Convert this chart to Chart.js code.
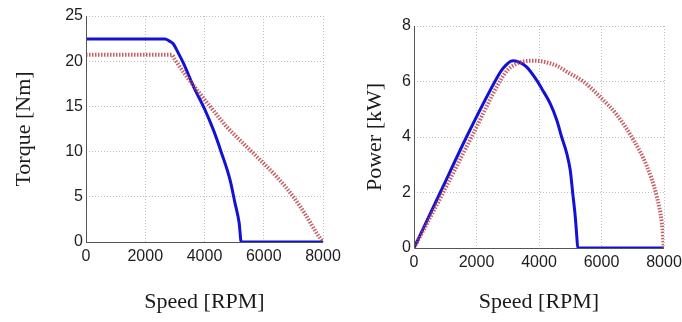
<!DOCTYPE html>
<html>
<head>
<meta charset="utf-8">
<script src="https://cdn.jsdelivr.net/npm/chart.js@4.4.1/dist/chart.umd.min.js"></script>
<style>
  html, body { margin: 0; padding: 0; background: #fff; }
  #wrap { position: relative; width: 682px; height: 322px; overflow: hidden; }
  canvas { position: absolute; top: 0; }
  #c1 { left: 0; }
  #c2 { left: 341px; }
</style>
</head>
<body>
<div id="wrap">
  <canvas id="c1" width="341" height="322"></canvas>
  <canvas id="c2" width="341" height="322"></canvas>
</div>
<script>
// ---- Data ----
const speedTicks = [0, 2000, 4000, 6000, 8000];
const torqueTicks = [0, 5, 10, 15, 20, 25];
const powerTicks = [0, 2, 4, 6, 8];

const torqueBlueSpeed = [0, 2670, 2800, 2950, 3100, 3300, 3630, 4020, 4300, 4580, 4860, 5030, 5170, 5240, 8000];
const torqueBlue      = [22.45, 22.45, 22.25, 21.9, 21.0, 19.7, 17.2, 14.6, 12.4, 9.8, 6.9, 4.3, 2.1, 0, 0];

const torqueRedSpeed = [0, 2900, 3000, 3400, 4190, 4750, 5310, 5880, 6440, 7000, 7450, 7790, 8000];
const torqueRed      = [20.7, 20.7, 20.2, 18.3, 15.0, 12.75, 10.9, 9.07, 7.2, 5.0, 2.8, 0.96, 0];

const powerBlueSpeed = [0, 840, 1680, 2590, 2800, 2950, 3080, 3180, 3400, 3610, 3930, 4090, 4360, 4570, 4730, 4890, 5000, 5080, 5160, 5210, 5240, 8000];
const powerBlue      = [0, 2, 4, 6, 6.4, 6.6, 6.72, 6.75, 6.68, 6.52, 6.04, 5.74, 5.2, 4.6, 3.98, 3.4, 2.8, 1.97, 1.13, 0.41, 0, 0];

const powerRedSpeed = [0, 935, 1840, 2745, 3000, 3250, 3500, 3800, 4200, 4600, 4890, 5420, 5950, 6490, 7020, 7450, 7770, 7930, 8000];
const powerRed      = [0, 2, 4, 6, 6.42, 6.62, 6.72, 6.75, 6.7, 6.55, 6.35, 6.0, 5.45, 4.8, 3.9, 2.95, 1.85, 0.9, 0];

// ---- Helpers ----
const pts = (xs, ys) => xs.map((x, i) => ({ x: x, y: ys[i] }));

const BLUE = 'rgb(18,18,215)';
const RED = 'rgba(185,55,65,0.8)';
const GRID = '#bdbdbd';
const TICKFONT = { family: '"Liberation Sans", Arial, sans-serif', size: 16 };
const TITLEFONT = { family: '"Liberation Serif", "Times New Roman", serif', size: 22 };

// Solid left/bottom axis lines on top of the dotted grid
const axisLines = {
  id: 'axisLines',
  afterDatasetsDraw(chart) {
    const { ctx, chartArea: a } = chart;
    ctx.save();
    ctx.setLineDash([]);
    ctx.strokeStyle = '#555';
    ctx.lineWidth = 1;
    ctx.beginPath();
    ctx.moveTo(a.left + 0.5, a.top);
    ctx.lineTo(a.left + 0.5, a.bottom + 0.5);
    ctx.lineTo(a.right, a.bottom + 0.5);
    ctx.stroke();
    ctx.restore();
  }
};

function makeChart(id, cfg) {
  const yTicks = cfg.yTicks;
  return new Chart(document.getElementById(id), {
    type: 'line',
    data: {
      datasets: [
        {
          data: pts(cfg.redX, cfg.redY),
          borderColor: RED,
          borderWidth: 4,
          borderDash: [1.5, 1.5],
          pointRadius: 0,
          cubicInterpolationMode: 'monotone',
          fill: false
        },
        {
          data: pts(cfg.blueX, cfg.blueY),
          borderColor: BLUE,
          borderWidth: 3,
          pointRadius: 0,
          cubicInterpolationMode: 'monotone',
          fill: false
        }
      ]
    },
    options: {
      responsive: false,
      animation: false,
      events: [],
      layout: { padding: { left: 0, right: 18, top: cfg.top, bottom: 0 } },
      plugins: { legend: { display: false }, tooltip: { enabled: false } },
      scales: {
        x: {
          type: 'linear',
          min: speedTicks[0],
          max: speedTicks[speedTicks.length - 1],
          afterBuildTicks: s => { s.ticks = speedTicks.map(v => ({ value: v })); },
          afterFit: s => { s.height = cfg.xAxisH; s.paddingRight = 0; s.paddingLeft = 0; },
          ticks: { font: TICKFONT, color: '#1e1e1e', padding: 5, maxRotation: 0, autoSkip: false, callback: v => String(v) },
          grid: { color: GRID, drawTicks: false },
          border: { display: false, dash: [1, 2] },
          title: { display: true, text: 'Speed [RPM]', font: TITLEFONT, color: '#1a1a1a', padding: { top: 0, bottom: 7 } }
        },
        y: {
          type: 'linear',
          min: yTicks[0],
          max: yTicks[yTicks.length - 1],
          afterBuildTicks: s => { s.ticks = yTicks.map(v => ({ value: v })); },
          afterFit: s => { s.width = cfg.yAxisW; s.paddingTop = 0; s.paddingBottom = 0; },
          ticks: { font: TICKFONT, color: '#1e1e1e', padding: 3, autoSkip: false, callback: v => String(v) },
          grid: { color: GRID, drawTicks: false },
          border: { display: false, dash: [1, 2] },
          title: { display: true, text: cfg.yTitle, font: TITLEFONT, color: '#1a1a1a', padding: { top: cfg.yTitlePad, bottom: 0 } }
        }
      }
    },
    plugins: [axisLines]
  });
}

makeChart('c1', {
  redX: torqueRedSpeed, redY: torqueRed,
  blueX: torqueBlueSpeed, blueY: torqueBlue,
  yTicks: torqueTicks, yTitle: 'Torque [Nm]',
  top: 16, xAxisH: 80, yAxisW: 86, yTitlePad: 11
});

makeChart('c2', {
  redX: powerRedSpeed, redY: powerRed,
  blueX: powerBlueSpeed, blueY: powerBlue,
  yTicks: powerTicks, yTitle: 'Power [kW]',
  top: 26, xAxisH: 74, yAxisW: 73, yTitlePad: 21
});
</script>
</body>
</html>
